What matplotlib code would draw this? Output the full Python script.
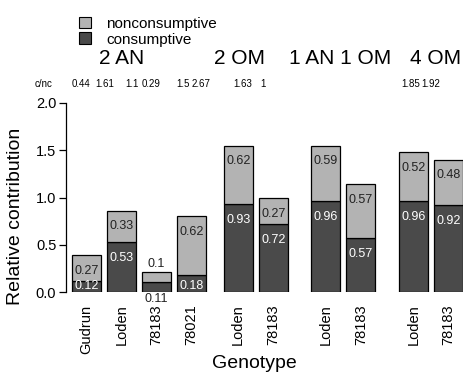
import matplotlib
matplotlib.use("Agg")
import matplotlib.pyplot as plt
from matplotlib.patches import Patch

plt.rcParams['font.family'] = ['Liberation Sans', 'DejaVu Sans']

genotypes = ["Gudrun", "Loden", "78183", "78021", "Loden", "78183", "Loden", "78183", "Loden", "78183"]
consumptive = [0.12, 0.53, 0.11, 0.18, 0.93, 0.72, 0.96, 0.57, 0.96, 0.92]
nonconsumptive = [0.27, 0.33, 0.10, 0.62, 0.62, 0.27, 0.59, 0.57, 0.52, 0.48]
cnc = ["0.44", "1.61", "1.1", "0.29", "1.5", "2.67", "1.63", "1", "1.85", "1.92"]
groups = ["2 AN", "2 OM", "1 AN 1 OM", "4 OM"]

dark = "#4a4a4a"
light = "#b3b3b3"

# R-style barplot spacing
space = [0.2, 0.2, 0.2, 0.2, 0.6, 0.2, 0.8, 0.2, 0.8, 0.2]
xs = []
edge = 0
for s in space:
    edge += s
    xs.append(edge + 0.5)
    edge += 1

fig = plt.figure(figsize=(4.63, 3.75), dpi=100)
ax = fig.add_axes([66/463, 1 - 292/375, 397/463, 189/375])

ax.bar(xs, consumptive, width=1, color=dark, edgecolor="black", linewidth=0.9)
ax.bar(xs, nonconsumptive, width=1, bottom=consumptive, color=light, edgecolor="black", linewidth=0.9)

for x, c, nc in zip(xs, consumptive, nonconsumptive):
    top = c + nc
    if top < 0.3:
        ax.text(x, -0.07, f"{c:g}", ha="center", va="center", fontsize=9, color="#222222", clip_on=False)
        ax.text(x, top + 0.09, f"{nc:g}", ha="center", va="center", fontsize=9, color="#222222")
    else:
        cy = c - 0.165 if c > 0.3 else 0.06
        ax.text(x, cy, f"{c:.2f}", ha="center", va="center", fontsize=9, color="white")
        ax.text(x, top - 0.165, f"{nc:.2f}", ha="center", va="center", fontsize=9, color="#222222")

# c/nc ratios along the top
cnc_x = [0.51, 1.34, 2.26, 2.93, 4.01, 4.64, 6.06, 6.75, 11.80, 12.49]
ax.text(-0.77, 2.2, "c/nc", ha="center", va="center", fontsize=7, clip_on=False)
for x, t in zip(cnc_x, cnc):
    ax.text(x, 2.2, t, ha="center", va="center", fontsize=7, clip_on=False)

group_x = [1.9, 5.95, 9.4, 12.65]
for x, g in zip(group_x, groups):
    ax.text(x, 2.475, g, ha="center", va="center", fontsize=15, clip_on=False)

ax.set_xlim(0, 13.6)
ax.set_ylim(0, 2)
ax.set_yticks([0, 0.5, 1.0, 1.5, 2.0])
ax.set_yticklabels(["0.0", "0.5", "1.0", "1.5", "2.0"])
ax.set_xticks(xs)
ax.set_xticklabels(genotypes, rotation=90, va="top")
ax.tick_params(axis="x", length=0, pad=9, labelsize=10.5)
ax.tick_params(axis="y", length=5, width=0.9, pad=2, labelsize=10.5)
for s in ["top", "right", "bottom"]:
    ax.spines[s].set_visible(False)
ax.spines["left"].set_bounds(0, 2)
ax.spines["left"].set_linewidth(0.9)

ax.set_ylabel("Relative contribution", fontsize=14)
ax.yaxis.set_label_coords(-0.105, 0.40)
ax.set_xlabel("Genotype", fontsize=14)
ax.xaxis.set_label_coords((254 - 66) / 397, -0.335)

handles = [Patch(facecolor=light, edgecolor="black", linewidth=0.8),
           Patch(facecolor=dark, edgecolor="black", linewidth=0.8)]
fig.legend(handles, ["nonconsumptive", "consumptive"], loc="upper left",
           bbox_to_anchor=(68/463, 1 - 6/375), frameon=False, fontsize=11,
           handlelength=0.8, handleheight=0.8, handletextpad=1.0, labelspacing=0.1,
           borderpad=0.2)

fig.savefig("out.png", dpi=100)
